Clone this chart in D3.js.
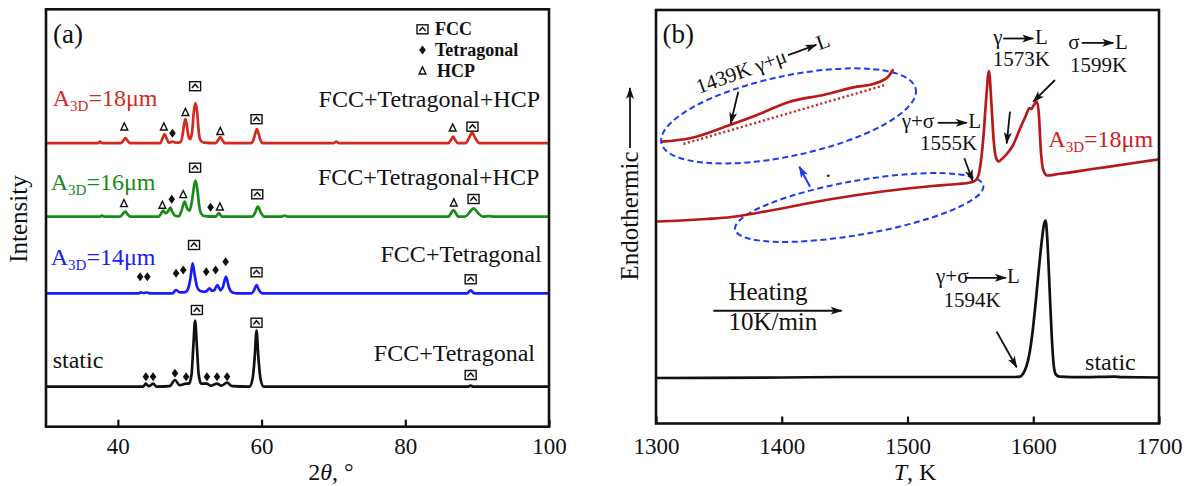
<!DOCTYPE html>
<html><head><meta charset="utf-8">
<script src="https://cdn.jsdelivr.net/npm/d3@7"></script>
<style>
body{margin:0;background:#fff}
svg{display:block}
text{font-family:"Liberation Serif","Times New Roman",serif;fill:#111}
</style>
</head><body>
<svg id="c" width="1192" height="486"></svg>
<script>
// ---------------- DATA ----------------
// Panel (a): XRD patterns, [2θ (deg), intensity above own baseline (a.u.)]
const xrdOffsets = [40, 133.4, 210, 283.5];
const xrdStatic = [[30,0],[43.5,0],[43.9,3],[44.3,0.5],[44.9,3],[45.4,0],[47.2,0.5],[47.95,6.7],[48.6,1.5],[49.5,3],[49.9,3],[50.25,12],[50.5,40],[50.75,66],[51,40],[51.25,12],[51.6,3],[52.4,3],[52.9,1],[53.8,3],[54.4,1],[55.2,4],[55.9,0.5],[58.3,0],[58.75,8],[59.05,30],[59.3,56],[59.55,30],[59.85,8],[60.3,0],[88.7,0],[89.1,1],[89.5,0],[100,0]];
const xrd14 = [[30,0],[42.9,0],[43.2,1],[43.5,0.3],[44.1,0.8],[44.5,0],[47.6,0],[48.1,3.3],[48.6,1],[49.4,1.2],[49.8,5],[50.1,15],[50.4,30],[50.7,18],[51,7],[51.4,2.5],[52,1.5],[52.4,2.5],[52.75,5],[53.1,2.5],[53.4,3],[53.85,8.3],[54.3,3],[54.6,6],[55.05,16.7],[55.45,6],[55.9,1],[56.5,0],[58.6,0],[58.95,3],[59.3,8.3],[59.65,3],[60.1,0],[88.6,0],[89.1,3],[89.6,0],[100,0]];
const xrd16 = [[30,0],[37.5,0],[37.8,1],[38.1,0],[40.3,0],[40.65,2.5],[41,5],[41.35,2.5],[41.7,0],[45.7,0],[46,3],[46.3,6],[46.65,3.5],[46.95,5],[47.3,9],[47.6,4.5],[47.95,1],[48.5,0.5],[48.85,6],[49.3,15],[49.65,8],[49.95,6],[50.3,15],[50.55,28],[50.8,36],[51.05,28],[51.3,12],[51.6,3],[52.1,0.5],[53.6,0],[54.05,3.5],[54.5,0],[58.7,0],[59.1,4],[59.5,10],[59.9,4],[60.4,0],[62.8,0],[63.2,1.2],[63.6,0],[86,0],[86.35,3.3],[86.7,6.7],[87.05,3.3],[87.4,0],[88.3,0],[88.9,4],[89.5,8.4],[90.1,4],[90.8,0],[91.6,0.6],[92.4,0],[100,0]];
const xrd18 = [[30,0],[37.2,0],[37.5,1.5],[37.8,0],[40.4,0],[40.75,2.5],[41.05,5],[41.35,2.5],[41.7,0],[45.9,0],[46.2,4.5],[46.5,9],[46.8,4.5],[47.1,0.5],[47.6,1.5],[48.2,0.5],[48.7,1],[49,8],[49.2,18],[49.4,24],[49.6,18],[49.8,8],[50.05,4],[50.35,12],[50.55,30],[50.8,40],[51.05,30],[51.25,12],[51.5,3],[52,0.5],[53.6,0],[53.95,3],[54.25,6],[54.55,3],[54.9,0],[58.5,0],[58.9,4],[59.1,9],[59.35,14],[59.6,9],[59.8,4],[60.2,0],[70,0],[70.4,1.5],[70.8,0],[86,0],[86.35,3.2],[86.65,6.5],[86.95,3.2],[87.3,0],[88.4,0],[88.85,5],[89.3,10.5],[89.75,5],[90.3,0],[100,0]];
const xrdSeries = [xrdStatic, xrd14, xrd16, xrd18];
const xrdLabels = ["static", "14μm", "16μm", "18μm"];
const xrdPhases = ["FCC+Tetragonal", "FCC+Tetragonal", "FCC+Tetragonal+HCP", "FCC+Tetragonal+HCP"];
const xTicksA = [40, 60, 80, 100];
// phase markers: [series index, phase, 2θ, height above baseline]
const phaseMarks = [
 [3,"HCP",40.9,16.5],[3,"HCP",46.4,16.5],[3,"Tet",47.6,10],[3,"HCP",49.4,31],[3,"FCC",50.75,57],[3,"HCP",54.25,12],[3,"FCC",59.3,24],[3,"HCP",86.6,15.5],[3,"FCC",89.35,16.5],
 [2,"HCP",40.85,13.4],[2,"HCP",46.2,11.7],[2,"Tet",47.5,17.4],[2,"HCP",49.1,22.4],[2,"FCC",50.75,49],[2,"Tet",52.9,9.4],[2,"HCP",54.2,10],[2,"FCC",59.4,22.4],[2,"HCP",86.75,14],[2,"FCC",89.5,17.7],
 [1,"Tet",43.1,16.6],[1,"Tet",44.1,16.6],[1,"Tet",48.1,20],[1,"Tet",49.1,23.3],[1,"FCC",50.6,48.3],[1,"Tet",52.3,21.6],[1,"Tet",53.6,23.3],[1,"Tet",55.0,31.6],[1,"FCC",59.3,21],[1,"FCC",89.1,14],
 [0,"Tet",43.9,10],[0,"Tet",44.9,10],[0,"Tet",47.95,13.4],[0,"Tet",49.5,10],[0,"FCC",51.0,76.7],[0,"Tet",52.4,10],[0,"Tet",53.8,10],[0,"Tet",55.2,10],[0,"FCC",59.3,64],[0,"FCC",89.1,11.7]
];
const legendPhases = ["FCC", "Tet", "HCP"];
const legendNames  = ["FCC", "Tetragonal", "HCP"];

// Panel (b): DSC curves, [T (K), heat-flow signal (a.u.)]
const dsc18 = [[1300,202],[1320,203],[1340,204.5],[1360,206.5],[1380,210.5],[1400,215],[1420,220],[1440,224.5],[1460,228.5],[1480,232],[1500,235],[1520,237.5],[1540,239.5],[1550,241],[1554,243],[1556.5,248.5],[1558.5,263.5],[1560.5,288.5],[1562.5,323.5],[1564.8,352.5],[1566.8,318.5],[1568.5,283.5],[1570.5,265.5],[1572.5,262],[1575,264.5],[1579,269.5],[1584,278.5],[1589,293.5],[1594,307.5],[1597,315.5],[1598.5,314.5],[1600.5,318.5],[1603,322],[1604.5,308.5],[1606,273.5],[1608,253.5],[1611,248],[1620,249.5],[1650,255],[1680,260.5],[1700,264.2]];
const dscStatic = [[1300,45.5],[1400,46],[1450,46.5],[1500,46.5],[1550,46.5],[1585,46.5],[1589.5,46.8],[1592,50],[1594.5,57],[1597,70],[1599.5,92],[1602,122],[1604.5,155],[1607,185],[1608.7,200],[1609.8,203],[1611,188],[1612.3,155],[1613.5,120],[1614.8,85],[1616.3,58],[1618,49],[1621,46.8],[1640,46.3],[1665,46.8],[1670,46.3],[1700,46]];
const xTicksB = [1300, 1400, 1500, 1600, 1700];
// magnified inset of the 18 μm curve (1300–1555 K)
const insetCurve = [[1300,8.3],[1331,11.7],[1375,25],[1405,35],[1441,48.3],[1478,55],[1515,63.3],[1533,66],[1540,68.3],[1549.5,73.3],[1555,80.7]];
const insetBaseline = [[1324,6],[1546,65]];

// ---------------- DRAW ----------------
const svg = d3.select("#c");
const defs = svg.append("defs");
function marker(id, color){
  defs.append("marker").attr("id", id).attr("viewBox","0 0 12 8").attr("refX",11).attr("refY",4)
    .attr("markerWidth",12).attr("markerHeight",8).attr("markerUnits","userSpaceOnUse").attr("orient","auto")
    .append("path").attr("d","M0,0 L12,4 L0,8 L3,4 Z").attr("fill",color);
}
marker("ah","#111"); marker("ahb","#1a3cf0");

const colA = ["#111111", "#1a1aff", "#188a18", "#d42a1e"];
const redB = "#b81818";

// ---- Panel (a) ----
const A = {l:46, r:549, t:9.3, b:426.7};
const xA = d3.scaleLinear([30,100],[A.l,A.r]);
const yA = d3.scaleLinear([0,417.4],[A.b,A.t]);
const gA = svg.append("g");

xrdSeries.forEach((s,i)=>{
  const off = xrdOffsets[i];
  gA.append("path").datum(s)
    .attr("d", d3.line().x(d=>xA(d[0])).y(d=>yA(d[1]+off)).curve(d3.curveMonotoneX))
    .attr("fill","none").attr("stroke",colA[i]).attr("stroke-width",2.7).attr("stroke-linejoin","round");
});

function drawSymbol(g, type, x, y){
  if(type==="FCC"){
    g.append("rect").attr("x",x-5.5).attr("y",y-4.5).attr("width",11).attr("height",9)
      .attr("fill","#fff").attr("stroke","#111").attr("stroke-width",1.4);
    g.append("path").attr("d",`M${x-3.2},${y+1.8} L${x},${y-2} L${x+3.2},${y+1.8}`)
      .attr("fill","none").attr("stroke","#111").attr("stroke-width",1.5);
  } else if(type==="Tet"){
    g.append("path").attr("d",`M${x},${y-4.5} L${x+3.3},${y} L${x},${y+4.5} L${x-3.3},${y} Z`).attr("fill","#111");
  } else {
    g.append("path").attr("d",`M${x},${y-3.8} L${x+3.4},${y+3.3} L${x-3.4},${y+3.3} Z`)
      .attr("fill","none").attr("stroke","#111").attr("stroke-width",1.4);
  }
}
phaseMarks.forEach(m=>{
  drawSymbol(gA, m[1], xA(m[2]), yA(xrdOffsets[m[0]]+m[3]));
});

// legend
legendPhases.forEach((p,i)=>{
  const y = 29.3 + i*20.7;
  drawSymbol(gA, p, 422.5, y);
  gA.append("text").attr("x", i===2?437:435).attr("y", y+6).attr("font-size",18).attr("font-weight","bold").text(legendNames[i]);
});

// series labels
const labY = [368.3, 265, 190, 106];
const labX = [52.7, 50.7, 50.7, 52.7];
xrdLabels.forEach((lab,i)=>{
  const t = gA.append("text").attr("x",labX[i]).attr("y",labY[i]).attr("font-size",24).style("fill",colA[i]);
  if(i===0){ t.text(lab); }
  else {
    t.append("tspan").text("A");
    t.append("tspan").attr("font-size",15).attr("dy",5).text("3D");
    t.append("tspan").attr("dy",-5).text("="+lab);
  }
});
const phY = [361, 261.7, 185, 106.7];
const phX = [535, 541.7, 539.3, 540];
xrdPhases.forEach((p,i)=>{
  gA.append("text").attr("x",phX[i]).attr("y",phY[i]).attr("text-anchor","end").attr("font-size",24).text(p);
});

// frame + axis
gA.append("rect").attr("x",A.l).attr("y",A.t).attr("width",A.r-A.l).attr("height",A.b-A.t)
  .attr("fill","none").attr("stroke","#111").attr("stroke-width",2.6);
const axA = gA.append("g").attr("transform",`translate(0,${A.b})`)
  .call(d3.axisBottom(xA).tickValues(xTicksA).tickFormat(d3.format("d")).tickSizeInner(-7).tickSizeOuter(0).tickPadding(11));
axA.select(".domain").remove();
axA.selectAll("line").attr("stroke","#111").attr("stroke-width",2.2);
axA.selectAll("text").attr("font-size",23).attr("font-family","Liberation Serif").style("fill","#111");
const tA = gA.append("text").attr("x",331).attr("y",480).attr("text-anchor","middle").attr("font-size",24);
tA.append("tspan").text("2");
tA.append("tspan").attr("font-style","italic").text("θ");
tA.append("tspan").text(", °");
gA.append("text").attr("transform","translate(27,219) rotate(-90)").attr("text-anchor","middle").attr("font-size",25).text("Intensity");
gA.append("text").attr("x",53).attr("y",43).attr("font-size",27).text("(a)");

// ---- Panel (b) ----
const B = {l:656, r:1159, t:10, b:423.5};
const xB = d3.scaleLinear([1300,1700],[B.l,B.r]);
const yB = d3.scaleLinear([0,413.5],[B.b,B.t]);
const gB = svg.append("g");

// ellipses (dashed blue)
function ellipse(T, v, rx, ry, rot){
  gB.append("ellipse").attr("cx",0).attr("cy",0).attr("rx",rx).attr("ry",ry)
    .attr("transform",`translate(${xB(T)},${yB(v)}) rotate(${rot})`)
    .attr("fill","none").attr("stroke","#1a3cf0").attr("stroke-width",2).attr("stroke-dasharray","6,3.5");
}
ellipse(1405.4, 307.6, 130, 40, -12);
ellipse(1461.6, 216, 126, 27, -10);

gB.append("path").datum(dsc18)
  .attr("d", d3.line().x(d=>xB(d[0])).y(d=>yB(d[1])).curve(d3.curveMonotoneX))
  .attr("fill","none").attr("stroke",redB).attr("stroke-width",2.7).attr("stroke-linejoin","round");
gB.append("path").datum(dscStatic)
  .attr("d", d3.line().x(d=>xB(d[0])).y(d=>yB(d[1])).curve(d3.curveMonotoneX))
  .attr("fill","none").attr("stroke","#111").attr("stroke-width",2.7).attr("stroke-linejoin","round");

// inset (magnified)
const xIn = d3.scaleLinear([1300,1555],[661.7,893.3]);
const yIn = d3.scaleLinear([0,150],[150,0]);
gB.append("path").datum(insetCurve)
  .attr("d", d3.line().x(d=>xIn(d[0])).y(d=>yIn(d[1])).curve(d3.curveMonotoneX))
  .attr("fill","none").attr("stroke",redB).attr("stroke-width",2.7);
gB.append("path").datum(insetBaseline)
  .attr("d", d3.line().x(d=>xIn(d[0])).y(d=>yIn(d[1])))
  .attr("fill","none").attr("stroke","#c82020").attr("stroke-width",2.4).attr("stroke-dasharray","2,2.6");

function arrow(x1,y1,x2,y2,id,w){
  gB.append("line").attr("x1",x1).attr("y1",y1).attr("x2",x2).attr("y2",y2)
    .attr("stroke", id==="ahb"?"#1a3cf0":"#111").attr("stroke-width",w||1.8).attr("marker-end",`url(#${id||"ah"})`);
}
arrow(xIn(1384.3), yIn(58.3), xIn(1376), yIn(26.7));
// rotated 1439K label
const rl = gB.append("g").attr("transform",`translate(699,94) rotate(-20)`);
rl.append("text").attr("x",0).attr("y",0).attr("font-size",21).text("1439K γ+μ");
rl.append("line").attr("x1",97).attr("y1",-6).attr("x2",127).attr("y2",-6).attr("stroke","#111").attr("stroke-width",1.8).attr("marker-end","url(#ah)");
rl.append("text").attr("x",128).attr("y",0).attr("font-size",21).text("L");

// blue arrow & dot
arrow(xB(1422.5), yB(236.8), xB(1414), yB(256.8), "ahb", 2);
gB.append("circle").attr("cx",xB(1437)).attr("cy",yB(247.8)).attr("r",1.3).attr("fill","#111");

function phaseLabel(T, v, left, ax1, ax2, ady, lx){
  const x = xB(T), y = yB(v);
  gB.append("text").attr("x",x).attr("y",y).attr("font-size",21).text(left);
  gB.append("line").attr("x1",x+ax1).attr("y1",y+ady).attr("x2",x+ax2).attr("y2",y+ady)
    .attr("stroke","#111").attr("stroke-width",1.8).attr("marker-end","url(#ah)");
  gB.append("text").attr("x",x+lx).attr("y",y).attr("font-size",21).text("L");
}
function label(T, v, s, size, color){
  return gB.append("text").attr("x",xB(T)).attr("y",yB(v)).attr("font-size",size||21).style("fill",color||"#111").text(s);
}
phaseLabel(1495.4, 295.2, "γ+σ", 36, 65, -5.5, 66.6);
label(1509.9, 273.5, "1555K");
arrow(xB(1545.2), yB(265.2), xB(1551.8), yB(242.8));
phaseLabel(1568.2, 379.5, "γ", 10, 40, -5.5, 41.7);
label(1567.8, 357.5, "1573K");
phaseLabel(1627.9, 374.2, "σ", 13.4, 45, -6.5, 46.7);
label(1629.2, 351.8, "1599K");
arrow(xB(1617.3), yB(343.5), xB(1600), yB(321.8));
arrow(xB(1581.5), yB(311.8), xB(1578.9), yB(280.2));
const a18 = gB.append("text").attr("x",xB(1612)).attr("y",yB(276.2)).attr("font-size",24).style("fill","#cc2020");
a18.append("tspan").text("A");
a18.append("tspan").attr("font-size",15).attr("dy",5).text("3D");
a18.append("tspan").attr("dy",-5).text("=18μm");

phaseLabel(1522.7, 140.2, "γ+σ", 29, 69.8, -5.5, 71);
label(1528.6, 116.8, "1594K");
arrow(xB(1570.9), yB(91.8), xB(1586.8), yB(56.2));
label(1641.2, 53.5, "static", 24);

// heating
label(1357.6, 123.5, "Heating", 25);
arrow(xB(1345.6), yB(112.8), xB(1447.6), yB(112.8), "ah", 2);
label(1357.6, 93.5, "10K/min", 25);

// frame + axis
gB.append("rect").attr("x",B.l).attr("y",B.t).attr("width",B.r-B.l).attr("height",B.b-B.t)
  .attr("fill","none").attr("stroke","#111").attr("stroke-width",2.6);
const axB = gB.append("g").attr("transform",`translate(0,${B.b})`)
  .call(d3.axisBottom(xB).tickValues(xTicksB).tickFormat(d3.format("d")).tickSizeInner(-7).tickSizeOuter(0).tickPadding(14.3));
axB.select(".domain").remove();
axB.selectAll("line").attr("stroke","#111").attr("stroke-width",2.2);
axB.selectAll("text").attr("font-size",23).attr("font-family","Liberation Serif").style("fill","#111");
const tB = gB.append("text").attr("x",915).attr("y",480).attr("text-anchor","middle").attr("font-size",24);
tB.append("tspan").attr("font-style","italic").text("T");
tB.append("tspan").text(", K");
gB.append("text").attr("transform","translate(638,216) rotate(-90)").attr("text-anchor","middle").attr("font-size",25).text("Endothermic");
gB.append("line").attr("x1",630).attr("y1",148).attr("x2",630).attr("y2",88)
  .attr("stroke","#111").attr("stroke-width",1.8).attr("marker-end","url(#ah)");
gB.append("text").attr("x",662.5).attr("y",43).attr("font-size",27).text("(b)");
</script>
</body></html>
